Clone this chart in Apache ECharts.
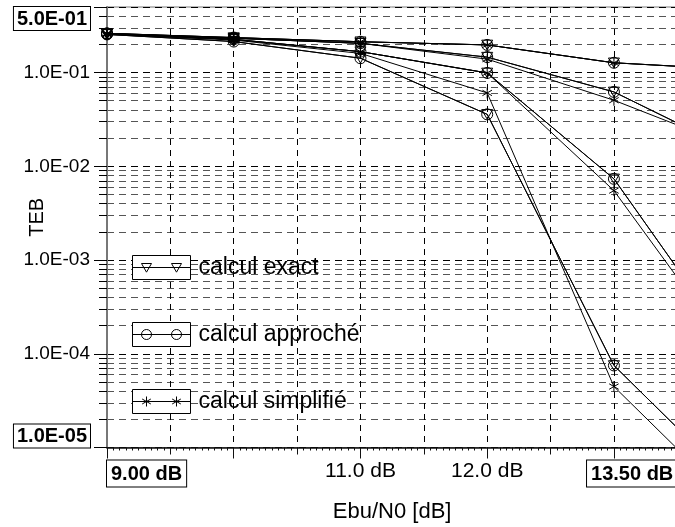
<!DOCTYPE html>
<html>
<head>
<meta charset="utf-8">
<script src="https://cdn.jsdelivr.net/npm/echarts@6/dist/echarts.min.js"></script>
<style>
html, body { margin: 0; padding: 0; background: #fff; }
#chart { width: 675px; height: 527px; }
</style>
</head>
<body>
<div id="chart"></div>
<script>
// ---- data ----
const ebn0 = [9, 10, 11, 12, 13, 14];

const exactA     = [0.262, 0.236, 0.213, 0.197, 0.127, 0.107];
const approcheA  = [0.262, 0.236, 0.213, 0.197, 0.127, 0.107];
const simplifieA = [0.262, 0.236, 0.213, 0.197, 0.127, 0.107];

const exactB     = [0.260, 0.232, 0.205, 0.146, 0.0621, 0.0135];
const approcheB  = [0.260, 0.232, 0.205, 0.146, 0.0621, 0.0135];
const simplifieB = [0.260, 0.232, 0.205, 0.139, 0.0506, 0.0150];

const exactC     = [0.258, 0.226, 0.167, 0.099, 0.00734, 9.0e-5];
const approcheC  = [0.258, 0.226, 0.167, 0.099, 0.00734, 9.0e-5];
const simplifieC = [0.258, 0.226, 0.167, 0.099, 0.0055, 7.7e-5];

const exactD     = [0.255, 0.214, 0.142, 0.0358, 7.5e-5, 3.5e-6];
const approcheD  = [0.255, 0.214, 0.142, 0.0358, 7.5e-5, 3.5e-6];
const simplifieD = [0.255, 0.222, 0.160, 0.0606, 4.47e-5, 2.1e-6];

const legendNames = ['calcul exact', 'calcul approché', 'calcul simplifié'];

const xLabelValues = [9, 11, 12, 13.5];
const xLabelTexts  = ['9.00 dB', '11.0 dB', '12.0 dB', '13.50 dB'];
const xLabelBoxed  = [true, false, false, true];

const yLabelValues = [0.5, 0.1, 0.01, 0.001, 0.0001, 0.00001];
const yLabelTexts  = ['5.0E-01', '1.0E-01', '1.0E-02', '1.0E-03', '1.0E-04', '1.0E-05'];
const yLabelBoxed  = [true, false, false, false, false, true];

const minorMultipliers = [2, 3, 4, 5, 6, 7, 8, 9];
const decadeExponents = [-5, -4, -3, -2, -1];

// ---- chart ----
const FONT = '"Liberation Sans", Arial, Helvetica, sans-serif';

function labelIndex(vals, v) {
  for (let i = 0; i < vals.length; i++) {
    if (Math.abs(v - vals[i]) <= Math.abs(vals[i]) * 1e-6 + 1e-12) return i;
  }
  return -1;
}

const yMin = yLabelValues[yLabelValues.length - 1];
const yMax = yLabelValues[0];
const minorLogPositions = [];
decadeExponents.forEach(e => {
  minorMultipliers.forEach(m => {
    const v = m * Math.pow(10, e);
    if (v < yMax) minorLogPositions.push(Math.log10(v));
  });
});

const symTri = 'path://M0,0L10,0L5,8.66Z';
const symStar = 'path://M5,0L5,10M0.67,2.5L9.33,7.5M0.67,7.5L9.33,2.5';
const symCircle = 'circle';

const iconBox = 'M0,0L58,0L58,24L0,24Z M0,12L58,12 ';
const iconExact = 'path://' + iconBox + 'M9,8L19,8L14,16.66Z M39,8L49,8L44,16.66Z';
const iconApproche = 'path://' + iconBox + 'M19,12A5,5 0 1 1 9,12A5,5 0 1 1 19,12Z M49,12A5,5 0 1 1 39,12A5,5 0 1 1 49,12Z';
const iconSimplifie = 'path://' + iconBox +
  'M14,7L14,17M9.67,9.5L18.33,14.5M9.67,14.5L18.33,9.5 M44,7L44,17M39.67,9.5L48.33,14.5M39.67,14.5L48.33,9.5';

const groups = [
  { name: legendNames[0], symbol: symTri, sets: [exactA, exactB, exactC, exactD] },
  { name: legendNames[1], symbol: symCircle, sets: [approcheA, approcheB, approcheC, approcheD] },
  { name: legendNames[2], symbol: symStar, sets: [simplifieA, simplifieB, simplifieC, simplifieD] }
];

const series = [];
groups.forEach(g => {
  g.sets.forEach(arr => {
    series.push({
      type: 'line',
      name: g.name,
      xAxisIndex: 0,
      yAxisIndex: 0,
      data: ebn0.map((x, i) => [x, arr[i]]),
      symbol: g.symbol,
      symbolSize: 11,
      symbolKeepAspect: true,
      showSymbol: true,
      showAllSymbol: true,
      clip: true,
      silent: true,
      emphasis: { disabled: true },
      lineStyle: { color: '#000', width: 1 },
      itemStyle: { color: 'rgba(0,0,0,0)', borderColor: '#000', borderWidth: 1 }
    });
  });
});

const boxRich = {
  fontFamily: FONT, fontWeight: 'bold', fontSize: 20, color: '#000',
  borderColor: '#000', borderWidth: 1, backgroundColor: '#fff'
};

const chart = echarts.init(document.getElementById('chart'), null, { renderer: 'canvas' });
chart.setOption({
  animation: false,
  backgroundColor: '#fff',
  grid: {
    left: 107, top: 7, width: 570.3, height: 440.5,
    show: true, borderColor: '#777', borderWidth: 1,
    containLabel: false, outerBoundsMode: 'none'
  },
  legend: {
    orient: 'vertical',
    left: 132, top: 255, padding: 0,
    itemWidth: 58, itemHeight: 24, itemGap: 42,
    selectedMode: false,
    itemStyle: { color: '#fff', borderColor: '#000', borderWidth: 1 },
    textStyle: { fontFamily: FONT, fontSize: 23, color: '#000', padding: [0, 0, 0, 3] },
    data: [
      { name: legendNames[0], icon: iconExact },
      { name: legendNames[1], icon: iconApproche },
      { name: legendNames[2], icon: iconSimplifie }
    ]
  },
  xAxis: [
    {
      type: 'value', min: 9, max: 13.5, interval: 0.5, position: 'bottom',
      axisLine: { show: true, onZero: false, lineStyle: { color: '#111', width: 1.5 } },
      axisTick: { show: true, length: 7, lineStyle: { color: '#111' } },
      minorTick: { show: true, splitNumber: 10, length: 3, lineStyle: { color: '#111' } },
      splitLine: { show: true, lineStyle: { color: '#000', width: 1, type: [6, 5] } },
      axisLabel: {
        margin: 13, fontFamily: FONT, fontSize: 21, color: '#000',
        showMinLabel: true, showMaxLabel: true,
        alignMinLabel: 'left', alignMaxLabel: 'right',
        formatter: function (v) {
          const i = labelIndex(xLabelValues, v);
          if (i < 0) return '';
          return xLabelBoxed[i] ? '{box|' + xLabelTexts[i] + '}' : xLabelTexts[i];
        },
        rich: { box: Object.assign({ padding: [4, 4, 2, 4] }, boxRich) }
      },
      name: 'Ebu/N0 [dB]', nameLocation: 'middle', nameGap: 53, nameMoveOverlap: false,
      nameTextStyle: { fontFamily: FONT, fontSize: 22, color: '#000' }
    },
    {
      type: 'value', min: 9, max: 13.5, interval: 1, position: 'bottom',
      axisLine: { show: false, onZero: false },
      axisTick: { show: true, length: 11, lineStyle: { color: '#111' } },
      axisLabel: { show: false },
      splitLine: { show: false }
    }
  ],
  yAxis: [
    {
      type: 'log', logBase: 10, min: yMin, max: yMax, position: 'left',
      axisLine: { show: true, lineStyle: { color: '#777', width: 2 } },
      axisTick: { show: true, length: 13, lineStyle: { color: '#000' } },
      splitLine: { show: true, lineStyle: { color: '#000', width: 1, type: [7, 5] } },
      axisLabel: {
        margin: 17, fontFamily: FONT, fontSize: 19, color: '#000',
        showMinLabel: true, showMaxLabel: true,
        verticalAlignMinLabel: 'bottom', verticalAlignMaxLabel: 'top',
        formatter: function (v) {
          const i = labelIndex(yLabelValues, v);
          if (i < 0) return '';
          return yLabelBoxed[i] ? '{box|' + yLabelTexts[i] + '}' : yLabelTexts[i];
        },
        rich: { box: Object.assign({ padding: [2, 3, 1, 3] }, boxRich) }
      },
      name: 'TEB', nameLocation: 'middle', nameGap: 60, nameMoveOverlap: false,
      nameTextStyle: { fontFamily: FONT, fontSize: 20, color: '#000', padding: [0, 0, 0, 20] }
    },
    {
      type: 'value', min: -5, max: Math.log10(yMax), position: 'left',
      axisLine: { show: false },
      axisLabel: { show: false },
      axisTick: { show: true, length: 8, customValues: minorLogPositions, lineStyle: { color: '#000' } },
      splitLine: { show: true, lineStyle: { color: '#555', width: 1, type: [7, 5] } }
    }
  ],
  series: series
});
</script>
</body>
</html>
